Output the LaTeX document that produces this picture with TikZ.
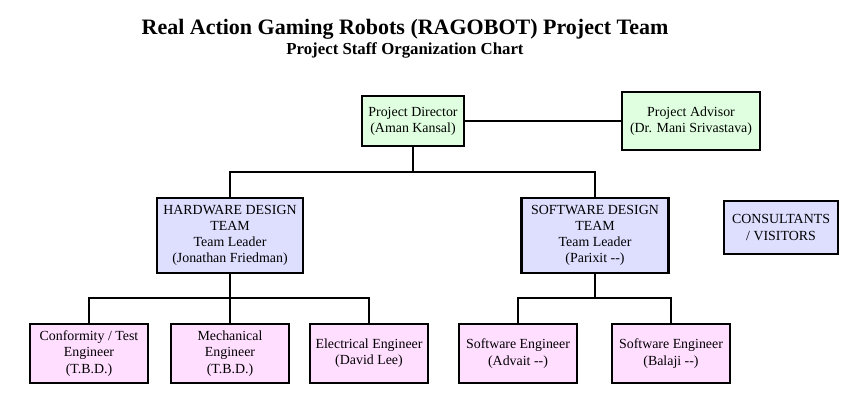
\documentclass[tikz,border=0pt]{standalone}
\usepackage{fontspec}
\setmainfont{Liberation Serif}
\definecolor{gfill}{RGB}{224,255,224}
\definecolor{bfill}{RGB}{222,222,255}
\definecolor{pfill}{RGB}{255,222,255}
\tikzset{
  box/.style={draw=black, line width=2.6pt, rectangle, inner sep=0pt, align=center,
    font=\fontsize{13.9}{16.2}\selectfont},
  gbox/.style={box, fill=gfill},
  bbox/.style={box, fill=bfill},
  pbox/.style={box, fill=pfill, minimum width=118pt, minimum height=59pt},
  conn/.style={line width=2.4pt}
}
\begin{document}
\begin{tikzpicture}[x=1pt,y=-1pt]
\useasboundingbox[fill=white] (0,0) rectangle (856,408);
\node[font=\fontsize{22}{26}\selectfont\bfseries] (title) at (405,29) {Real Action Gaming Robots (RAGOBOT) Project Team};
\node[font=\fontsize{16.8}{19}\selectfont\bfseries] (sub) at (405,50) {Project Staff Organization Chart};

\node[gbox, minimum width=102pt, minimum height=50pt] (dir) at (413,121) {Project Director\\(Aman Kansal)};
\node[gbox, minimum width=138pt, minimum height=58pt] (adv) at (691,121) {Project Advisor\\(Dr. Mani Srivastava)};

\node[bbox, minimum width=146pt, minimum height=75pt] (hw) at (230,235.5) {HARDWARE DESIGN\\TEAM\\Team Leader\\(Jonathan Friedman)};
\node[bbox, minimum width=147pt, minimum height=75pt] (sw) at (595,235.5) {SOFTWARE DESIGN\\TEAM\\Team Leader\\(Parixit {-}{-})};
\node[bbox, minimum width=114pt, minimum height=53pt] (cons) at (781,227.5) {CONSULTANTS\\/ VISITORS};

\node[pbox] (e1) at (89,353.5) {Conformity / Test\\Engineer\\(T.B.D.)};
\node[pbox] (e2) at (230,353.5) {Mechanical\\Engineer\\(T.B.D.)};
\node[pbox] (e3) at (369,353.5) {Electrical Engineer\\(David Lee)};
\node[pbox] (e4) at (518,353.5) {Software Engineer\\(Advait {-}{-})};
\node[pbox] (e5) at (671,353.5) {Software Engineer\\(Balaji {-}{-})};

\coordinate (j1) at (413,172);
\coordinate (j2) at (230,298);
\coordinate (j3) at (595,298);

\draw[conn] (dir.east) -- (adv.west);
\draw[conn] (dir.south) -- (j1);
\draw[conn] (j1) -| (hw.north);
\draw[conn] (j1) -| (sw.north);
\draw[conn] (hw.south) -- (j2);
\draw[conn] (j2) -| (e1.north);
\draw[conn] (j2) -- (e2.north);
\draw[conn] (j2) -| (e3.north);
\draw[conn] (sw.south) -- (j3);
\draw[conn] (j3) -| (e4.north);
\draw[conn] (j3) -| (e5.north);
\end{tikzpicture}
\end{document}
